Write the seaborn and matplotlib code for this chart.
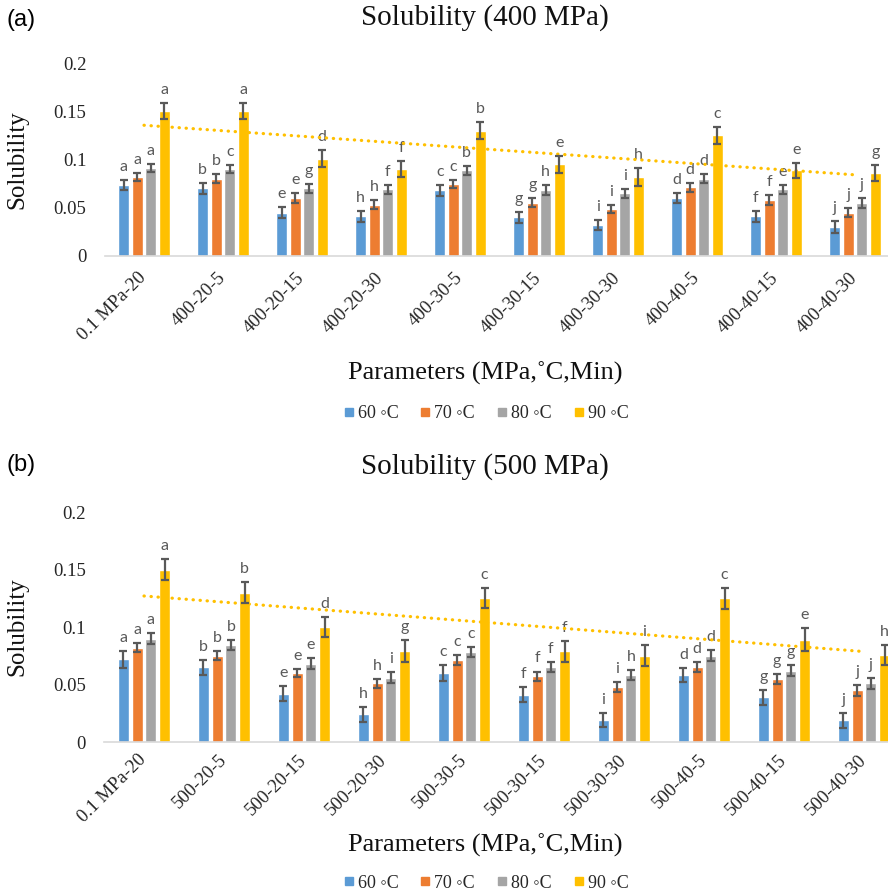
import numpy as np
import pandas as pd
import matplotlib
matplotlib.use("Agg")
import matplotlib.pyplot as plt
from matplotlib.lines import Line2D
import seaborn as sns

# ---------------- data ----------------
temps = ["60 ◦C", "70 ◦C", "80 ◦C", "90 ◦C"]
colors = ["#5B9BD5", "#ED7D31", "#A5A5A5", "#FFC000"]

cats_a = ["0.1 MPa-20", "400-20-5", "400-20-15", "400-20-30", "400-30-5",
          "400-30-15", "400-30-30", "400-40-5", "400-40-15", "400-40-30"]
a_60 = [0.074, 0.070, 0.045, 0.041, 0.068, 0.040, 0.032, 0.060, 0.041, 0.030]
a_70 = [0.082, 0.080, 0.060, 0.053, 0.075, 0.055, 0.049, 0.071, 0.058, 0.045]
a_80 = [0.091, 0.090, 0.070, 0.069, 0.089, 0.068, 0.065, 0.080, 0.069, 0.055]
a_90 = [0.150, 0.150, 0.101, 0.090, 0.130, 0.095, 0.082, 0.125, 0.089, 0.086]
a_err60 = [0.0052, 0.0057, 0.006, 0.006, 0.0059, 0.0057, 0.0055, 0.0052, 0.0057, 0.0062]
a_err70 = [0.0041, 0.0045, 0.0048, 0.0048, 0.0041, 0.0047, 0.0043, 0.0048, 0.0052, 0.0048]
a_err80 = [0.0043, 0.0043, 0.0043, 0.0043, 0.0047, 0.0052, 0.0048, 0.0048, 0.005, 0.0055]
a_err90 = [0.0083, 0.0083, 0.0086, 0.0086, 0.0086, 0.009, 0.009, 0.009, 0.0078, 0.0081]
a_let60 = ["a", "b", "e", "h", "c", "g", "i", "d", "f", "j"]
a_let70 = ["a", "b", "e", "h", "c", "g", "i", "d", "f", "j"]
a_let80 = ["a", "c", "g", "f", "b", "h", "i", "d", "e", "j"]
a_let90 = ["a", "a", "d", "f", "b", "e", "h", "c", "e", "g"]

cats_b = ["0.1 MPa-20", "500-20-5", "500-20-15", "500-20-30", "500-30-5",
          "500-30-15", "500-30-30", "500-40-5", "500-40-15", "500-40-30"]
b_60 = [0.072, 0.065, 0.042, 0.024, 0.060, 0.041, 0.019, 0.058, 0.039, 0.019]
b_70 = [0.082, 0.075, 0.060, 0.051, 0.071, 0.057, 0.048, 0.065, 0.055, 0.045]
b_80 = [0.090, 0.084, 0.068, 0.056, 0.078, 0.065, 0.058, 0.075, 0.062, 0.051]
b_90 = [0.150, 0.130, 0.100, 0.079, 0.125, 0.079, 0.075, 0.125, 0.089, 0.076]
b_err60 = [0.0075, 0.0065, 0.0065, 0.0065, 0.0068, 0.0065, 0.0062, 0.0062, 0.0064, 0.0065]
b_err70 = [0.004, 0.0039, 0.0036, 0.0038, 0.0043, 0.0043, 0.0042, 0.0043, 0.0043, 0.0046]
b_err80 = [0.0048, 0.0043, 0.0049, 0.0045, 0.0043, 0.0043, 0.0045, 0.0046, 0.0049, 0.0046]
b_err90 = [0.0091, 0.0094, 0.009, 0.0093, 0.0087, 0.009, 0.0091, 0.0091, 0.0097, 0.0087]
b_let60 = ["a", "b", "e", "h", "c", "f", "i", "d", "g", "j"]
b_let70 = ["a", "b", "e", "h", "c", "f", "i", "d", "g", "j"]
b_let80 = ["a", "b", "e", "i", "c", "f", "h", "d", "g", "j"]
b_let90 = ["a", "b", "d", "g", "c", "f", "i", "c", "e", "h"]

yticks = [0, 0.05, 0.1, 0.15, 0.2]
ytick_labels = ["0", "0.05", "0.1", "0.15", "0.2"]

# ---------------- style ----------------
sns.set_theme(style="white")
plt.rcParams["font.family"] = ["Liberation Serif", "DejaVu Sans"]
SERIF = ["Liberation Serif", "DejaVu Sans"]

W, H = 888, 896
fig = plt.figure(figsize=(W / 100, H / 100), dpi=100)


def panel(ax, cats, vals, errs, lets, title, tag, ytop, ybot, title_y, tag_y,
          xlabel_y, legend_y, xpad):
    df = pd.DataFrame({
        "param": np.repeat([cats], 4, axis=0).ravel(),
        "value": np.concatenate(vals),
        "temp": np.repeat(temps, len(cats)),
    })
    sns.barplot(data=df, x="param", y="value", hue="temp", palette=colors,
                hue_order=temps, order=cats, width=0.684, gap=0.19,
                saturation=1, errorbar=None, legend=False, ax=ax)
    for cont, err, let in zip(ax.containers, errs, lets):
        xs = [b.get_x() + b.get_width() / 2 for b in cont]
        hs = [b.get_height() for b in cont]
        ax.errorbar(xs, hs, yerr=err, fmt="none", ecolor="#595959",
                    elinewidth=1.6, capsize=3, capthick=1.6, zorder=5)
        for x, h, e, l in zip(xs, hs, err, let):
            ax.annotate(l, (x, h + e), xytext=(0, 6.5), textcoords="offset points",
                        ha="center", va="baseline", fontsize=11.5,
                        color="#595959", family=["Lato", "DejaVu Sans"])
    # linear trendline of the 90 °C series
    xi = np.arange(len(cats))
    k, c = np.polyfit(xi, vals[3], 1)
    ax.plot([xi[0], xi[-1]], [k * xi[0] + c, k * xi[-1] + c], color="#FFC000",
            lw=2.3, linestyle=(0, (0.1, 2.1)), dash_capstyle="round", zorder=4)

    ax.set_ylim(0, 0.2)
    ax.set_xlim(-0.5, len(cats) - 0.5)
    ax.set_yticks(yticks)
    ax.set_yticklabels(ytick_labels, fontsize=13.5, family=SERIF, color="#262626")
    ax.set_xticks(xi)
    ax.set_xticklabels(cats, rotation=45, ha="right", va="center",
                       rotation_mode="anchor", fontsize=13.5, family=SERIF,
                       color="#262626")
    ax.tick_params(axis="y", length=0, pad=13)
    ax.tick_params(axis="x", length=0, pad=xpad)
    ax.set_xlabel("")
    ax.set_ylabel("")
    for s in ["top", "right", "left"]:
        ax.spines[s].set_visible(False)
    ax.spines["bottom"].set_color("#D9D9D9")
    ax.spines["bottom"].set_linewidth(1.2)
    ax.grid(False)

    yc = (ytop + ybot) / 2
    fig.text(17 / W, 1 - yc / H, "Solubility", rotation=90, ha="center",
             va="center", fontsize=18, family=SERIF, color="#111111")
    fig.text(485 / W, 1 - title_y / H, title, ha="center", va="center",
             fontsize=21, family=SERIF, color="#111111")
    fig.text(6 / W, 1 - tag_y / H, tag, ha="left", va="center", fontsize=17,
             family=["Liberation Sans", "DejaVu Sans"], color="black")
    fig.text(485 / W, 1 - xlabel_y / H, "Parameters (MPa,˚C,Min)", ha="center",
             va="center", fontsize=19, family=SERIF, color="#111111")
    handles = [Line2D([], [], marker="s", linestyle="none", markersize=6,
                      markerfacecolor=col, markeredgecolor=col) for col in colors]
    fig.legend(handles, temps, loc="center", bbox_to_anchor=(485 / W, 1 - legend_y / H),
               ncol=4, frameon=False, handletextpad=0.1, columnspacing=1.1,
               handlelength=0.8, prop={"family": SERIF, "size": 13})


ax_a = fig.add_axes([104.5 / W, 1 - 256 / H, 790 / W, 193 / H])
panel(ax_a, cats_a, [a_60, a_70, a_80, a_90], [a_err60, a_err70, a_err80, a_err90],
      [a_let60, a_let70, a_let80, a_let90], "Solubility (400 MPa)", "(a)",
      63, 256, 18, 20, 373, 414, 14)

ax_b = fig.add_axes([104 / W, 1 - 742 / H, 800 / W, 230 / H])
panel(ax_b, cats_b, [b_60, b_70, b_80, b_90], [b_err60, b_err70, b_err80, b_err90],
      [b_let60, b_let70, b_let80, b_let90], "Solubility (500 MPa)", "(b)",
      512, 742, 467, 465, 845, 883, 11)

fig.savefig("out.png", dpi=100)
